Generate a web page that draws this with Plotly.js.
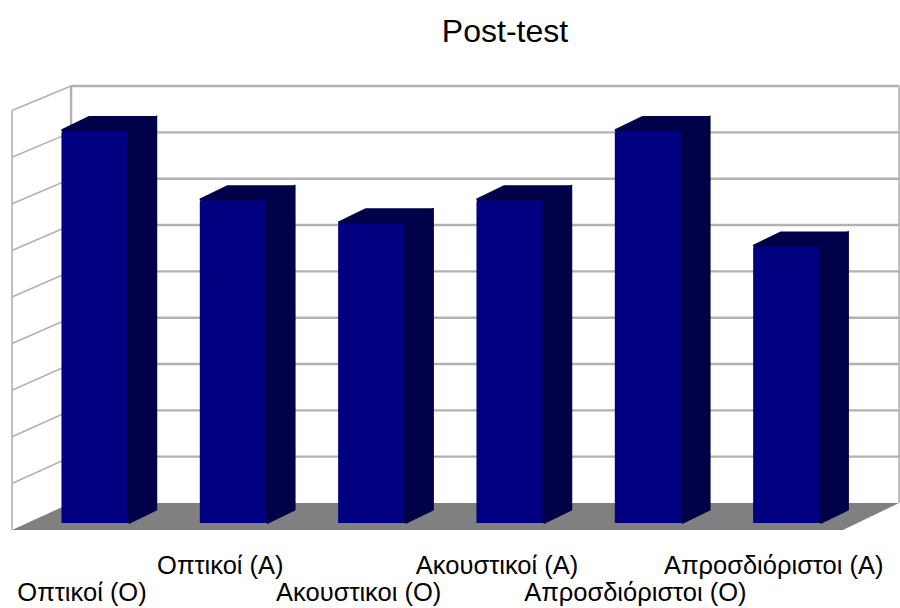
<!DOCTYPE html>
<html>
<head>
<meta charset="utf-8">
<script src="https://cdn.plot.ly/plotly-3.0.1.min.js"></script>
<style>html,body{margin:0;padding:0;background:#fff}</style>
</head>
<body>
<div id="chart" style="width:900px;height:608px"></div>
<script>
const categories = ["Οπτικοί (O)", "Οπτικοί (A)", "Ακουστικοι (O)", "Ακουστικοί (A)", "Απροσδιόριστοι (O)", "Απροσδιόριστοι (A)"];
const values = [8.5, 7, 6.5, 7, 8.5, 6];
const gridValues = [0, 1, 2, 3, 4, 5, 6, 7, 8, 9];
const positions = categories.map((_, i) => i);

// Depth geometry of the pseudo-3D scene, in axis units
const BAR_WIDTH = 0.485, BAR_DX = 0.2, BAR_DY = 0.29;
const WALL_FRONT_X = -0.6, WALL_BACK_X = -0.173, WALL_RIGHT_X = 5.812, FLOOR_FRONT_RIGHT_X = 5.407;
const frontY = v => -0.1515 + v * 1.0087;
const backY = v => 0.433 + v * 1.0028;

const sideFace = {x: [], y: []}, topFace = {x: [], y: []};
values.forEach((v, i) => {
  const x0 = i - BAR_WIDTH / 2, x1 = i + BAR_WIDTH / 2;
  sideFace.x.push(x1, x1 + BAR_DX, x1 + BAR_DX, x1, x1, null);
  sideFace.y.push(0, BAR_DY, v + BAR_DY, v, 0, null);
  topFace.x.push(x0, x0 + BAR_DX, x1 + BAR_DX, x1, x0, null);
  topFace.y.push(v, v + BAR_DY, v + BAR_DY, v, v, null);
});

const GRID = "#b2b2b2", DARK = "#000048", FRONT = "#000080";
const shapes = [];
const seg = (x0, y0, x1, y1, w) => shapes.push({type: "line", layer: "below", xref: "x", yref: "y", x0, y0, x1, y1, line: {color: GRID, width: w}});
gridValues.slice(1).forEach(v => {
  seg(WALL_BACK_X, backY(v), WALL_RIGHT_X, backY(v), 2.4);
  seg(WALL_FRONT_X, frontY(v), WALL_BACK_X, backY(v), 1.6);
});
seg(WALL_FRONT_X, frontY(0), WALL_FRONT_X, frontY(9), 1.6);
seg(WALL_BACK_X, backY(0), WALL_BACK_X, backY(9), 2.4);
seg(WALL_RIGHT_X, backY(0), WALL_RIGHT_X, backY(9), 1.6);
shapes.push({type: "path", layer: "below", xref: "x", yref: "y", line: {width: 0}, fillcolor: "#808080",
  path: `M${WALL_FRONT_X},${frontY(0)} L${WALL_BACK_X},${backY(0)} L${WALL_RIGHT_X},${backY(0)} L${FLOOR_FRONT_RIGHT_X},${frontY(0)} Z`});

const traces = [
  {type: "scatter", mode: "lines", x: sideFace.x, y: sideFace.y, fill: "toself", fillcolor: DARK, line: {color: DARK, width: 2}, hoverinfo: "skip"},
  {type: "scatter", mode: "lines", x: topFace.x, y: topFace.y, fill: "toself", fillcolor: DARK, line: {color: DARK, width: 2}, hoverinfo: "skip"},
  {type: "bar", x: positions, y: values, marker: {color: FRONT, line: {width: 0}, cornerradius: 3}, hoverinfo: "skip"}
];

const layout = {
  width: 900, height: 608, showlegend: false, paper_bgcolor: "#fff", plot_bgcolor: "#fff",
  margin: {l: 8, r: 0, t: 83, b: 75},
  bargap: 0.515,
  title: {text: "Post-test", x: 505 / 900, xanchor: "center", y: 1 - 31 / 608, yanchor: "middle",
          font: {family: "Liberation Sans", size: 32, color: "#000"}},
  shapes,
  xaxis: {range: [-0.629, 5.819], tickmode: "array", tickvals: positions,
          ticktext: categories.map((c, i) => {
            const s = `<span style="font-size:25.5px">${c}</span>`;
            return i % 2 === 0 ? " <br>" + s : s;
          }),
          tickangle: 0, ticks: "", showgrid: false, zeroline: false, showline: false,
          ticklabelshift: -13, ticklabelstandoff: 18,
          tickfont: {family: "Liberation Sans", size: 21.5, color: "#000"}},
  yaxis: {range: [-0.2165, 9.524], showticklabels: false, ticks: "", showgrid: false, zeroline: false, showline: false}
};
Plotly.newPlot("chart", traces, layout, {displayModeBar: false, staticPlot: true});
</script>
</body>
</html>
